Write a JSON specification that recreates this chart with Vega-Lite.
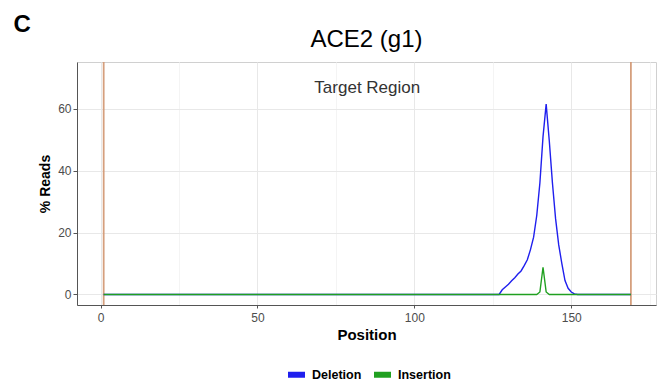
{
  "$schema": "https://vega.github.io/schema/vega-lite/v6.json",
  "autosize": {"type": "none"},
  "width": 579,
  "height": 243,
  "padding": {"left": 77, "top": 62, "right": 9, "bottom": 76},
  "background": "white",
  "title": {"text": "ACE2 (g1)", "fontSize": 24, "font": "Liberation Sans", "fontWeight": "normal", "color": "#000000", "anchor": "middle", "offset": -39},
  "config": {"view": {"stroke": "#d0d0d0", "strokeWidth": 1}, "font": "Liberation Sans"},
  "datasets": {
    "region": [{"Position": 1}, {"Position": 169}],
    "annotation": [{"label": "Target Region"}],
    "panel": [{"label": "C"}],
    "reads": [
      {"Position":1,"Deletion":0,"Insertion":0},{"Position":2,"Deletion":0,"Insertion":0},{"Position":3,"Deletion":0,"Insertion":0},{"Position":4,"Deletion":0,"Insertion":0},{"Position":5,"Deletion":0,"Insertion":0},{"Position":6,"Deletion":0,"Insertion":0},{"Position":7,"Deletion":0,"Insertion":0},{"Position":8,"Deletion":0,"Insertion":0},{"Position":9,"Deletion":0,"Insertion":0},{"Position":10,"Deletion":0,"Insertion":0},
      {"Position":11,"Deletion":0,"Insertion":0},{"Position":12,"Deletion":0,"Insertion":0},{"Position":13,"Deletion":0,"Insertion":0},{"Position":14,"Deletion":0,"Insertion":0},{"Position":15,"Deletion":0,"Insertion":0},{"Position":16,"Deletion":0,"Insertion":0},{"Position":17,"Deletion":0,"Insertion":0},{"Position":18,"Deletion":0,"Insertion":0},{"Position":19,"Deletion":0,"Insertion":0},{"Position":20,"Deletion":0,"Insertion":0},
      {"Position":21,"Deletion":0,"Insertion":0},{"Position":22,"Deletion":0,"Insertion":0},{"Position":23,"Deletion":0,"Insertion":0},{"Position":24,"Deletion":0,"Insertion":0},{"Position":25,"Deletion":0,"Insertion":0},{"Position":26,"Deletion":0,"Insertion":0},{"Position":27,"Deletion":0,"Insertion":0},{"Position":28,"Deletion":0,"Insertion":0},{"Position":29,"Deletion":0,"Insertion":0},{"Position":30,"Deletion":0,"Insertion":0},
      {"Position":31,"Deletion":0,"Insertion":0},{"Position":32,"Deletion":0,"Insertion":0},{"Position":33,"Deletion":0,"Insertion":0},{"Position":34,"Deletion":0,"Insertion":0},{"Position":35,"Deletion":0,"Insertion":0},{"Position":36,"Deletion":0,"Insertion":0},{"Position":37,"Deletion":0,"Insertion":0},{"Position":38,"Deletion":0,"Insertion":0},{"Position":39,"Deletion":0,"Insertion":0},{"Position":40,"Deletion":0,"Insertion":0},
      {"Position":41,"Deletion":0,"Insertion":0},{"Position":42,"Deletion":0,"Insertion":0},{"Position":43,"Deletion":0,"Insertion":0},{"Position":44,"Deletion":0,"Insertion":0},{"Position":45,"Deletion":0,"Insertion":0},{"Position":46,"Deletion":0,"Insertion":0},{"Position":47,"Deletion":0,"Insertion":0},{"Position":48,"Deletion":0,"Insertion":0},{"Position":49,"Deletion":0,"Insertion":0},{"Position":50,"Deletion":0,"Insertion":0},
      {"Position":51,"Deletion":0,"Insertion":0},{"Position":52,"Deletion":0,"Insertion":0},{"Position":53,"Deletion":0,"Insertion":0},{"Position":54,"Deletion":0,"Insertion":0},{"Position":55,"Deletion":0,"Insertion":0},{"Position":56,"Deletion":0,"Insertion":0},{"Position":57,"Deletion":0,"Insertion":0},{"Position":58,"Deletion":0,"Insertion":0},{"Position":59,"Deletion":0,"Insertion":0},{"Position":60,"Deletion":0,"Insertion":0},
      {"Position":61,"Deletion":0,"Insertion":0},{"Position":62,"Deletion":0,"Insertion":0},{"Position":63,"Deletion":0,"Insertion":0},{"Position":64,"Deletion":0,"Insertion":0},{"Position":65,"Deletion":0,"Insertion":0},{"Position":66,"Deletion":0,"Insertion":0},{"Position":67,"Deletion":0,"Insertion":0},{"Position":68,"Deletion":0,"Insertion":0},{"Position":69,"Deletion":0,"Insertion":0},{"Position":70,"Deletion":0,"Insertion":0},
      {"Position":71,"Deletion":0,"Insertion":0},{"Position":72,"Deletion":0,"Insertion":0},{"Position":73,"Deletion":0,"Insertion":0},{"Position":74,"Deletion":0,"Insertion":0},{"Position":75,"Deletion":0,"Insertion":0},{"Position":76,"Deletion":0,"Insertion":0},{"Position":77,"Deletion":0,"Insertion":0},{"Position":78,"Deletion":0,"Insertion":0},{"Position":79,"Deletion":0,"Insertion":0},{"Position":80,"Deletion":0,"Insertion":0},
      {"Position":81,"Deletion":0,"Insertion":0},{"Position":82,"Deletion":0,"Insertion":0},{"Position":83,"Deletion":0,"Insertion":0},{"Position":84,"Deletion":0,"Insertion":0},{"Position":85,"Deletion":0,"Insertion":0},{"Position":86,"Deletion":0,"Insertion":0},{"Position":87,"Deletion":0,"Insertion":0},{"Position":88,"Deletion":0,"Insertion":0},{"Position":89,"Deletion":0,"Insertion":0},{"Position":90,"Deletion":0,"Insertion":0},
      {"Position":91,"Deletion":0,"Insertion":0},{"Position":92,"Deletion":0,"Insertion":0},{"Position":93,"Deletion":0,"Insertion":0},{"Position":94,"Deletion":0,"Insertion":0},{"Position":95,"Deletion":0,"Insertion":0},{"Position":96,"Deletion":0,"Insertion":0},{"Position":97,"Deletion":0,"Insertion":0},{"Position":98,"Deletion":0,"Insertion":0},{"Position":99,"Deletion":0,"Insertion":0},{"Position":100,"Deletion":0,"Insertion":0},
      {"Position":101,"Deletion":0,"Insertion":0},{"Position":102,"Deletion":0,"Insertion":0},{"Position":103,"Deletion":0,"Insertion":0},{"Position":104,"Deletion":0,"Insertion":0},{"Position":105,"Deletion":0,"Insertion":0},{"Position":106,"Deletion":0,"Insertion":0},{"Position":107,"Deletion":0,"Insertion":0},{"Position":108,"Deletion":0,"Insertion":0},{"Position":109,"Deletion":0,"Insertion":0},{"Position":110,"Deletion":0,"Insertion":0},
      {"Position":111,"Deletion":0,"Insertion":0},{"Position":112,"Deletion":0,"Insertion":0},{"Position":113,"Deletion":0,"Insertion":0},{"Position":114,"Deletion":0,"Insertion":0},{"Position":115,"Deletion":0,"Insertion":0},{"Position":116,"Deletion":0,"Insertion":0},{"Position":117,"Deletion":0,"Insertion":0},{"Position":118,"Deletion":0,"Insertion":0},{"Position":119,"Deletion":0,"Insertion":0},{"Position":120,"Deletion":0,"Insertion":0},
      {"Position":121,"Deletion":0,"Insertion":0},{"Position":122,"Deletion":0,"Insertion":0},{"Position":123,"Deletion":0,"Insertion":0},{"Position":124,"Deletion":0,"Insertion":0},{"Position":125,"Deletion":0,"Insertion":0},{"Position":126,"Deletion":0,"Insertion":0},{"Position":127,"Deletion":0,"Insertion":0},{"Position":128,"Deletion":1.5,"Insertion":0},{"Position":129,"Deletion":2.4,"Insertion":0},{"Position":130,"Deletion":3.3,"Insertion":0},
      {"Position":131,"Deletion":4.4,"Insertion":0},{"Position":132,"Deletion":5.4,"Insertion":0},{"Position":133,"Deletion":6.6,"Insertion":0},{"Position":134,"Deletion":7.6,"Insertion":0},{"Position":135,"Deletion":9.3,"Insertion":0},{"Position":136,"Deletion":11.2,"Insertion":0},{"Position":137,"Deletion":14.5,"Insertion":0},{"Position":138,"Deletion":18.5,"Insertion":0},{"Position":139,"Deletion":25.5,"Insertion":0},{"Position":140,"Deletion":36,"Insertion":0.8},
      {"Position":141,"Deletion":51,"Insertion":8.8},{"Position":142,"Deletion":61.5,"Insertion":0.8},{"Position":143,"Deletion":49.6,"Insertion":0},{"Position":144,"Deletion":36,"Insertion":0},{"Position":145,"Deletion":24.5,"Insertion":0},{"Position":146,"Deletion":16,"Insertion":0},{"Position":147,"Deletion":10,"Insertion":0},{"Position":148,"Deletion":4.5,"Insertion":0},{"Position":149,"Deletion":2,"Insertion":0},{"Position":150,"Deletion":0.8,"Insertion":0},
      {"Position":151,"Deletion":0.2,"Insertion":0},{"Position":152,"Deletion":0,"Insertion":0},{"Position":153,"Deletion":0,"Insertion":0},{"Position":154,"Deletion":0,"Insertion":0},{"Position":155,"Deletion":0,"Insertion":0},{"Position":156,"Deletion":0,"Insertion":0},{"Position":157,"Deletion":0,"Insertion":0},{"Position":158,"Deletion":0,"Insertion":0},{"Position":159,"Deletion":0,"Insertion":0},{"Position":160,"Deletion":0,"Insertion":0},
      {"Position":161,"Deletion":0,"Insertion":0},{"Position":162,"Deletion":0,"Insertion":0},{"Position":163,"Deletion":0,"Insertion":0},{"Position":164,"Deletion":0,"Insertion":0},{"Position":165,"Deletion":0,"Insertion":0},{"Position":166,"Deletion":0,"Insertion":0},{"Position":167,"Deletion":0,"Insertion":0},{"Position":168,"Deletion":0,"Insertion":0},{"Position":169,"Deletion":0,"Insertion":0}
    ]
  },
  "layer": [
    {
      "data": {"name": "region"},
      "mark": {"type": "rule", "color": "#d39a76", "strokeWidth": 1.8, "opacity": 0.95},
      "encoding": {
        "x": {"field": "Position", "type": "quantitative"}
      }
    },
    {
      "data": {"name": "reads"},
      "transform": [{"fold": ["Deletion", "Insertion"], "as": ["Type", "Pct"]}],
      "mark": {"type": "line", "strokeWidth": 1.4},
      "encoding": {
        "x": {
          "field": "Position", "type": "quantitative",
          "scale": {"domain": [-7.5, 177], "nice": false, "zero": false},
          "axis": {
            "title": "Position", "titleFontSize": 15, "titleFontWeight": "bold", "titleColor": "#000000", "titlePadding": 4,
            "values": [0, 25, 50, 75, 100, 125, 150, 175],
            "labelExpr": "datum.value % 50 === 0 ? datum.label : ''",
            "labelFontSize": 12, "labelColor": "#4d4d4d", "labelPadding": 4,
            "tickSize": 3, "tickColor": "#555555",
            "tickOpacity": {"condition": {"test": "datum.value % 50 === 0", "value": 1}, "value": 0},
            "gridColor": {"condition": {"test": "datum.value % 50 === 0", "value": "#e8e8e8"}, "value": "#f4f4f4"},
            "domainColor": "#555555", "domainWidth": 1
          }
        },
        "y": {
          "field": "Pct", "type": "quantitative",
          "scale": {"domain": [-3.4, 75.1], "nice": false, "zero": false},
          "axis": {
            "title": "% Reads", "titleFontSize": 14, "titleFontWeight": "bold", "titleColor": "#000000", "titlePadding": 5,
            "values": [0, 10, 20, 30, 40, 50, 60, 70],
            "labelExpr": "datum.value % 20 === 0 ? datum.label : ''",
            "labelFontSize": 12, "labelColor": "#4d4d4d", "labelPadding": 2,
            "tickSize": 4, "tickColor": "#555555",
            "tickOpacity": {"condition": {"test": "datum.value % 20 === 0", "value": 1}, "value": 0},
            "gridColor": {"condition": {"test": "datum.value % 20 === 0", "value": "#e8e8e8"}, "value": "#f4f4f4"},
            "domainColor": "#555555", "domainWidth": 1
          }
        },
        "color": {
          "field": "Type", "type": "nominal",
          "scale": {"domain": ["Deletion", "Insertion"], "range": ["#1f1fee", "#20a020"]},
          "legend": {
            "orient": "none", "legendX": 208, "legendY": 301, "direction": "horizontal", "title": null,
            "symbolType": "stroke", "symbolStrokeWidth": 6, "symbolSize": 289,
            "labelFontSize": 12.5, "labelFontWeight": "bold", "labelColor": "#000000",
            "labelOffset": 4, "columnPadding": 0
          }
        }
      }
    },
    {
      "data": {"name": "annotation"},
      "mark": {"type": "text", "fontSize": 17, "color": "#333333"},
      "encoding": {
        "x": {"datum": 85},
        "y": {"datum": 66.7},
        "text": {"field": "label", "type": "nominal"}
      }
    },
    {
      "data": {"name": "panel"},
      "mark": {"type": "text", "fontSize": 24, "fontWeight": "bold", "color": "#000000"},
      "encoding": {
        "x": {"datum": -25},
        "y": {"datum": 87},
        "text": {"field": "label", "type": "nominal"}
      }
    }
  ]
}
